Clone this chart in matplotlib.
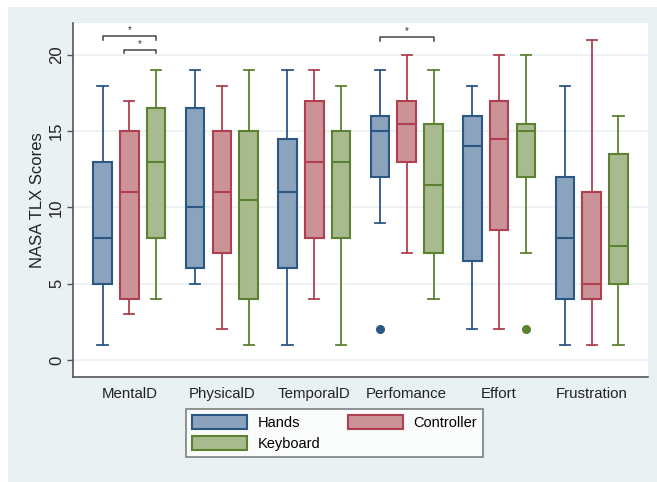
import matplotlib.pyplot as plt
from matplotlib.patches import Patch, Rectangle

plt.rcParams['font.family'] = ['Liberation Sans', 'DejaVu Sans']

# subscales on the x axis and the three input conditions
subscales = ['MentalD', 'PhysicalD', 'TemporalD', 'Perfomance', 'Effort', 'Frustration']
conditions = ['Hands', 'Controller', 'Keyboard']

# five-number summaries per condition: lower whisker, q1, median, q3, upper whisker
hands_stats = [
    [1, 5, 8, 13, 18],
    [5, 6, 10, 16.5, 19],
    [1, 6, 11, 14.5, 19],
    [9, 12, 15, 16, 19],
    [2, 6.5, 14, 16, 18],
    [1, 4, 8, 12, 18],
]
controller_stats = [
    [3, 4, 11, 15, 17],
    [2, 7, 11, 15, 18],
    [4, 8, 13, 17, 19],
    [7, 13, 15.5, 17, 20],
    [2, 8.5, 14.5, 17, 20],
    [1, 4, 5, 11, 21],
]
keyboard_stats = [
    [4, 8, 13, 16.5, 19],
    [1, 4, 10.5, 15, 19],
    [1, 8, 13, 15, 18],
    [4, 7, 11.5, 15.5, 19],
    [7, 12, 15, 15.5, 20],
    [1, 5, 7.5, 13.5, 16],
]
hands_outliers = [[], [], [], [2], [], []]
controller_outliers = [[], [], [], [], [], []]
keyboard_outliers = [[], [], [], [], [2], []]

# significance brackets: (subscale index, first condition, second condition, height)
sig_pairs = [
    (0, 0, 2, 21.25),
    (0, 1, 2, 20.35),
    (3, 0, 2, 21.2),
]

fills = ['#8BA3BD', '#CB9398', '#A8BB8E']
edges = ['#2B5784', '#B0404F', '#5C8131']
bg = '#EAF1F3'

fig = plt.figure(figsize=(6.57, 4.82), dpi=100)
fig.patch.set_facecolor('white')
fig.patches.append(Rectangle((8 / 657, 0), 1, 1 - 7 / 482, transform=fig.transFigure,
                             facecolor=bg, edgecolor='none', zorder=-10))
ax = fig.add_axes([73 / 657, 1 - 377 / 482, (648 - 73) / 657, (377 - 23) / 482])
ax.set_facecolor('white')

offset = 0.29
width = 0.2
all_stats = [hands_stats, controller_stats, keyboard_stats]
all_out = [hands_outliers, controller_outliers, keyboard_outliers]
for c in range(3):
    records = []
    for i, s in enumerate(all_stats[c]):
        records.append(dict(whislo=s[0], q1=s[1], med=s[2], q3=s[3], whishi=s[4],
                            fliers=all_out[c][i]))
    pos = [i + 1 + (c - 1) * offset for i in range(len(subscales))]
    ax.bxp(records, positions=pos, widths=width, patch_artist=True, showfliers=True,
           capwidths=0.11,
           boxprops=dict(facecolor=fills[c], edgecolor=edges[c], linewidth=1.5),
           medianprops=dict(color=edges[c], linewidth=1.5),
           whiskerprops=dict(color=edges[c], linewidth=1.3),
           capprops=dict(color=edges[c], linewidth=1.3),
           flierprops=dict(marker='o', markerfacecolor=edges[c], markeredgecolor=edges[c],
                           markersize=5.5))

for g, a, b, h in sig_pairs:
    x0 = g + 1 + (a - 1) * offset
    x1 = g + 1 + (b - 1) * offset
    if a == 1:
        x0 -= 0.06
    ax.plot([x0, x0, x1, x1], [h - 0.25, h, h, h - 0.25], color='#444444', lw=1.1,
            clip_on=False)
    ax.text((x0 + x1) / 2, h + 0.05, '*', ha='center', va='bottom', fontsize=7,
            color='#333333')

ax.set_xlim(0.39, 6.61)
ax.set_ylim(-1.12, 22.1)
ax.set_yticks([0, 5, 10, 15, 20])
ax.set_yticklabels(['0', '5', '10', '15', '20'], rotation=90, va='center')
ax.set_xticks(range(1, len(subscales) + 1))
ax.set_xticklabels(subscales)
ax.tick_params(axis='x', length=0, pad=7, labelsize=10.8, colors='#222222')
ax.tick_params(axis='y', length=4.5, width=1, pad=2, labelsize=12,
               colors='#555555', labelcolor='#222222')
ax.set_ylabel('NASA TLX Scores', fontsize=12, color='#222222', labelpad=3)
ax.yaxis.grid(True, color=bg, lw=1.2)
ax.set_axisbelow(True)
for side in ['top', 'right']:
    ax.spines[side].set_visible(False)
for side in ['left', 'bottom']:
    ax.spines[side].set_color('#555555')
    ax.spines[side].set_linewidth(1.2)

# legend fills column by column, so order entries to read Hands, Controller / Keyboard
order = [0, 2, 1]
handles = [Patch(facecolor=fills[c], edgecolor=edges[c], linewidth=1.5) for c in order]
labels = [conditions[c] for c in order]
leg = fig.legend(handles, labels, ncol=2, loc='upper center',
                 bbox_to_anchor=(334.5 / 657, 1 - 409 / 482), fontsize=10.5,
                 frameon=True, fancybox=False, edgecolor='#555555',
                 handlelength=3.8, handleheight=1.1, handletextpad=0.7,
                 columnspacing=1.9, labelspacing=0.45, borderpad=0.4,
                 borderaxespad=0)
leg.get_frame().set_linewidth(1.1)
leg.get_frame().set_facecolor('white')

fig.savefig('out.png', dpi=100, facecolor=fig.get_facecolor())
